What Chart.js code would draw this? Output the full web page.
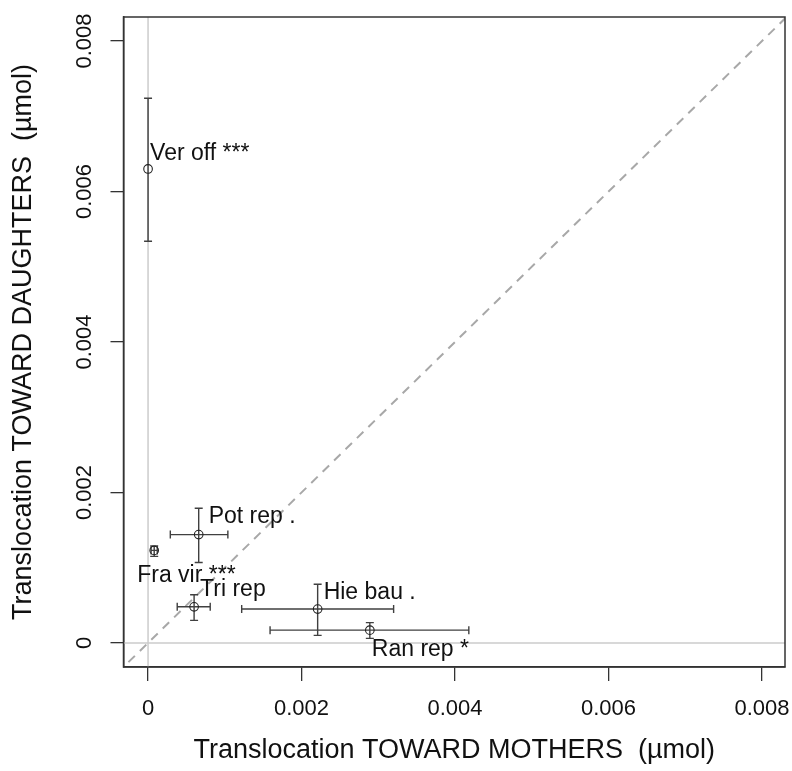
<!DOCTYPE html>
<html>
<head>
<meta charset="utf-8">
<title>Translocation toward mothers vs daughters</title>
<script src="https://cdn.jsdelivr.net/npm/chart.js@4.4.1/dist/chart.umd.min.js"></script>
<style>
    body { margin: 0; background: #fff; }
    canvas { display: block; }
</style>
</head>
<body>
<canvas id="transChart" width="792" height="771"></canvas>
<script>
// values (umol)
const species = ["Ver off", "Pot rep", "Fra vir", "Tri rep", "Hie bau", "Ran rep"];
const signif = ["***", ".", "***", "", ".", "*"];
const towardMothers = [0.0000, 0.00066, 0.00008, 0.00060, 0.00221, 0.00289];
const towardDaughters = [0.00630, 0.00144, 0.00123, 0.00048, 0.00045, 0.00017];
const mothersLow = [0.0000, 0.00029, 0.00004, 0.00038, 0.00122, 0.00159];
const mothersHigh = [0.0000, 0.00104, 0.00012, 0.00081, 0.00320, 0.00418];
const daughtersLow = [0.00534, 0.00107, 0.00115, 0.00030, 0.00010, 0.00006];
const daughtersHigh = [0.00724, 0.00179, 0.00129, 0.00064, 0.00078, 0.00027];
const tickValues = [0, 0.002, 0.004, 0.006, 0.008];
const tickLabels = ["0", "0.002", "0.004", "0.006", "0.008"];

// where each species label sits relative to its point (px: left edge, baseline)
const labelOffsets = [[2, -9], [10, -12], [-17, 32], [6, -11], [6, -10], [2, 26]];

const FONT = "'Liberation Sans', Arial, sans-serif";
const ctx = document.getElementById("transChart").getContext("2d");

const points = towardMothers.map((x, i) => ({ x: x, y: towardDaughters[i] }));

const referenceLines = {
    id: "referenceLines",
    beforeDatasetsDraw(chart) {
        const { ctx, chartArea: a, scales: { x, y } } = chart;
        ctx.save();
        ctx.beginPath();
        ctx.rect(a.left, a.top, a.right - a.left, a.bottom - a.top);
        ctx.clip();
        // zero lines
        ctx.strokeStyle = "#cccccc";
        ctx.lineWidth = 1.5;
        ctx.beginPath();
        ctx.moveTo(x.getPixelForValue(0), a.top);
        ctx.lineTo(x.getPixelForValue(0), a.bottom);
        ctx.moveTo(a.left, y.getPixelForValue(0));
        ctx.lineTo(a.right, y.getPixelForValue(0));
        ctx.stroke();
        // 1:1 line
        ctx.strokeStyle = "#a8a8a8";
        ctx.lineWidth = 2;
        ctx.setLineDash([9, 7]);
        ctx.beginPath();
        ctx.moveTo(x.getPixelForValue(-0.001), y.getPixelForValue(-0.001));
        ctx.lineTo(x.getPixelForValue(0.009), y.getPixelForValue(0.009));
        ctx.stroke();
        ctx.restore();

        // error bars
        const cap = 4;
        ctx.save();
        ctx.strokeStyle = "#404040";
        ctx.lineWidth = 1.4;
        towardMothers.forEach((mx, i) => {
            const px = x.getPixelForValue(mx);
            const py = y.getPixelForValue(towardDaughters[i]);
            ctx.beginPath();
            if (daughtersHigh[i] > daughtersLow[i]) {
                const y1 = y.getPixelForValue(daughtersLow[i]);
                const y2 = y.getPixelForValue(daughtersHigh[i]);
                ctx.moveTo(px, y1); ctx.lineTo(px, y2);
                ctx.moveTo(px - cap, y1); ctx.lineTo(px + cap, y1);
                ctx.moveTo(px - cap, y2); ctx.lineTo(px + cap, y2);
            }
            if (mothersHigh[i] > mothersLow[i]) {
                const x1 = x.getPixelForValue(mothersLow[i]);
                const x2 = x.getPixelForValue(mothersHigh[i]);
                ctx.moveTo(x1, py); ctx.lineTo(x2, py);
                ctx.moveTo(x1, py - cap); ctx.lineTo(x1, py + cap);
                ctx.moveTo(x2, py - cap); ctx.lineTo(x2, py + cap);
            }
            ctx.stroke();
        });
        ctx.restore();
    },
    afterDatasetsDraw(chart) {
        const { ctx, scales: { x, y } } = chart;
        ctx.save();
        ctx.fillStyle = "#111";
        ctx.font = "23px " + FONT;
        ctx.textAlign = "left";
        ctx.textBaseline = "alphabetic";
        species.forEach((name, i) => {
            const px = x.getPixelForValue(towardMothers[i]) + labelOffsets[i][0];
            const py = y.getPixelForValue(towardDaughters[i]) + labelOffsets[i][1];
            ctx.fillText(signif[i] ? name + " " + signif[i] : name, px, py);
        });
        ctx.restore();
    },
    afterDraw(chart) {
        const { ctx, chartArea: a, scales: { y } } = chart;
        ctx.save();
        // plot box
        ctx.strokeStyle = "#333";
        ctx.lineWidth = 1.5;
        ctx.strokeRect(a.left, a.top, a.right - a.left, a.bottom - a.top);
        // vertical y tick labels, as R draws them
        ctx.fillStyle = "#111";
        ctx.font = "22px " + FONT;
        ctx.textAlign = "center";
        ctx.textBaseline = "alphabetic";
        tickValues.forEach((v, i) => {
            ctx.save();
            ctx.translate(91, y.getPixelForValue(v));
            ctx.rotate(-Math.PI / 2);
            ctx.fillText(tickLabels[i], 0, 0);
            ctx.restore();
        });
        ctx.restore();
    }
};

chart = new Chart(ctx, {
    type: "scatter",
    data: {
        datasets: [
            {
                label: "species",
                data: points,
                pointStyle: "circle",
                pointRadius: 4.3,
                pointBorderWidth: 1.1,
                borderColor: "#222",
                backgroundColor: "rgba(0,0,0,0)",
            }
        ]
    },
    options: {
        responsive: false,
        animation: false,
        layout: { padding: { top: 17, right: 7, left: 0, bottom: 0 } },
        plugins: {
            legend: { display: false },
            tooltip: { enabled: false },
        },
        scales: {
            x: {
                type: "linear",
                min: -0.00032,
                max: 0.0083,
                afterBuildTicks: scale => { scale.ticks = tickValues.map(v => ({ value: v })); },
                afterFit: scale => {
                    scale.height = 104;
                    scale.paddingLeft = 0;
                    scale.paddingRight = 0;
                },
                grid: { drawOnChartArea: false, tickLength: 14, color: "#333", lineWidth: 1.3 },
                border: { display: true, color: "#333", width: 1.5 },
                ticks: {
                    padding: 15,
                    color: "#111",
                    font: { family: FONT, size: 22 },
                    maxRotation: 0,
                    callback: value => tickLabels[tickValues.indexOf(value)],
                },
                title: {
                    display: true,
                    text: "Translocation TOWARD MOTHERS  (\u00b5mol)",
                    color: "#111",
                    font: { family: FONT, size: 27 },
                    padding: { top: 0, bottom: 4 },
                },
            },
            y: {
                type: "linear",
                min: -0.00032,
                max: 0.00832,
                afterBuildTicks: scale => { scale.ticks = tickValues.map(v => ({ value: v })); },
                afterFit: scale => {
                    scale.width = 123.5;
                    scale.paddingTop = 0;
                    scale.paddingBottom = 0;
                },
                grid: { drawOnChartArea: false, tickLength: 13, color: "#333", lineWidth: 1.3 },
                border: { display: true, color: "#333", width: 1.5 },
                ticks: { display: false },
                title: {
                    display: true,
                    text: "Translocation TOWARD DAUGHTERS  (\u00b5mol)",
                    color: "#111",
                    font: { family: FONT, size: 27 },
                    padding: { top: 7, bottom: 0 },
                },
            },
        },
    },
    plugins: [referenceLines],
});
</script>
</body>
</html>
